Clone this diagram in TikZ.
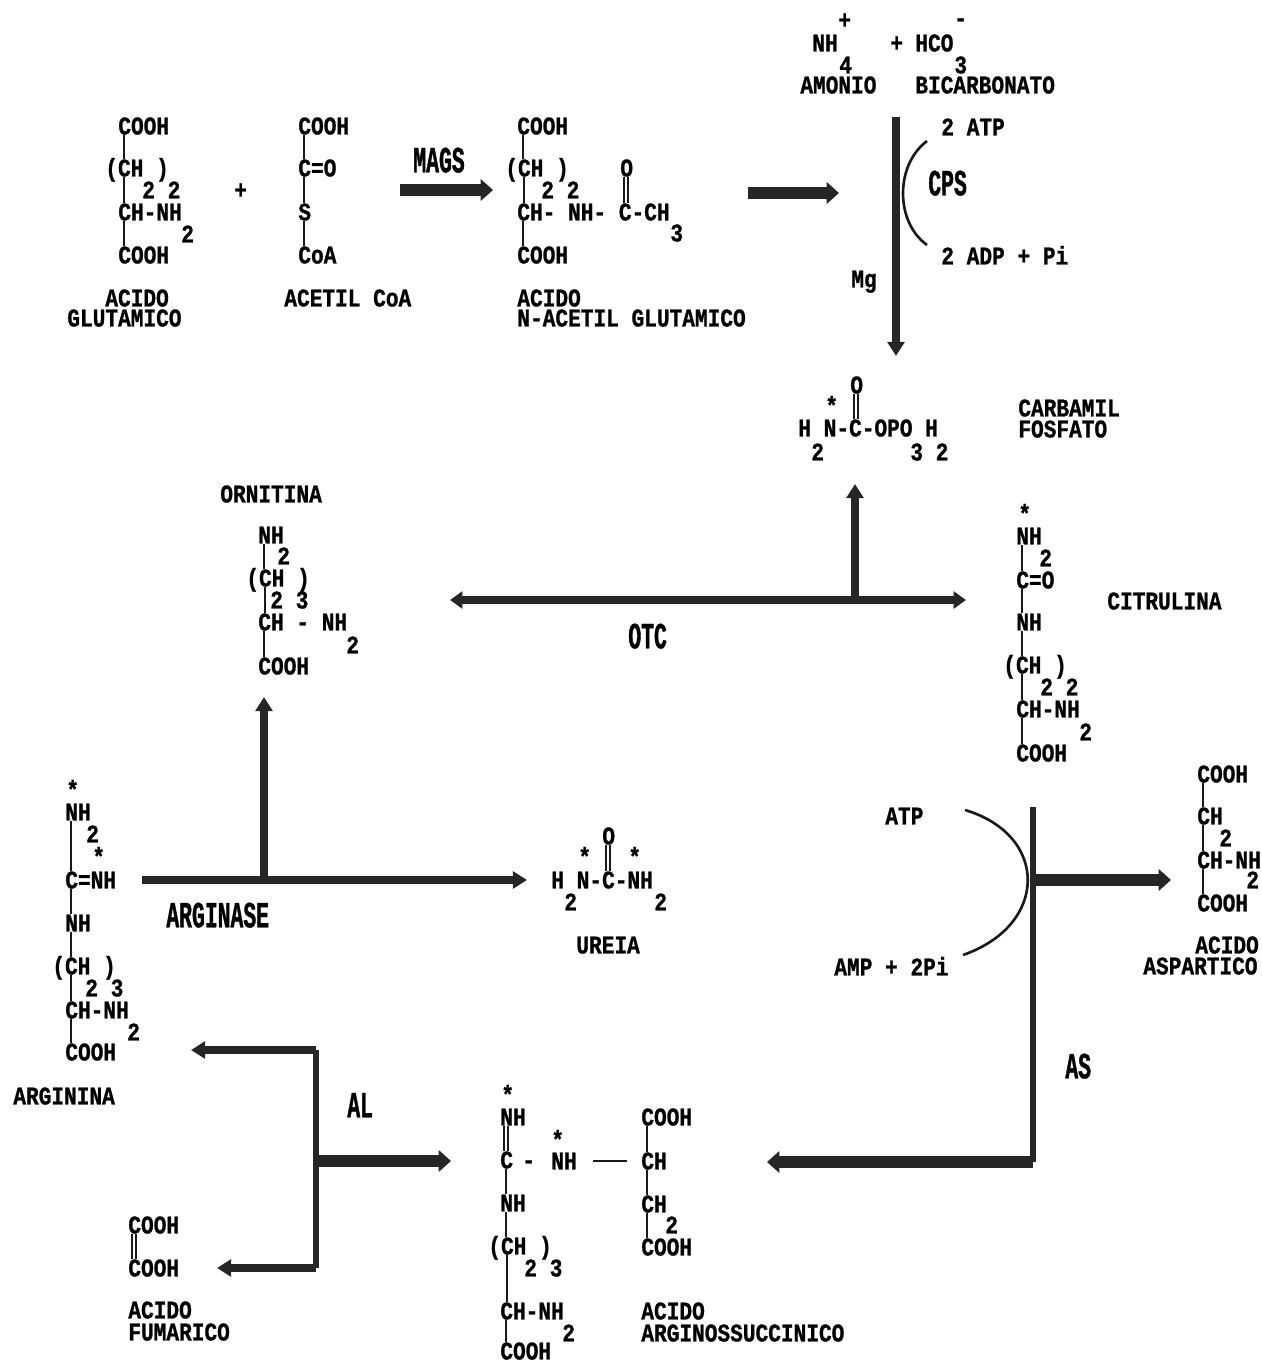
\documentclass[tikz,border=0pt]{standalone}
\usepackage{fontspec}
\usetikzlibrary{arrows.meta}
\newfontfamily\formfont[FakeStretch=0.83,BoldFeatures={FakeBold=1}]{Liberation Mono}
\newfontfamily\enzfont[FakeStretch=0.58,BoldFeatures={FakeBold=1}]{Liberation Mono}
\tikzset{
  txt/.style={anchor=west,inner sep=0pt,text height=9.6pt,text depth=0pt,
    font=\formfont\bfseries\fontsize{14.5}{14.5}\selectfont},
  enz/.style={anchor=west,inner sep=0pt,text height=14pt,text depth=0pt,
    font=\enzfont\bfseries\fontsize{21}{21}\selectfont},
  bond/.style={line width=1.1pt,black!90},
  thin arc/.style={line width=1.5pt,black!90},
  big/.style={line width=6.6pt,black!85,-{Triangle[length=7pt,width=12pt]}},
  mid/.style={line width=4.2pt,black!85,-{Triangle[length=8pt,width=9.5pt]}},
  dbl/.style={line width=4pt,black!85,{Triangle[length=7pt,width=9.5pt]}-{Triangle[length=7pt,width=9.5pt]}},
  plain bar/.style={line width=3.6pt,black!85},
}
% liaison simple sous la premiere lettre
\newcommand\bond[3][3.6pt]{\draw[bond] ([xshift=#1]#2.south west) -- ([xshift=#1]#2.south west |- #3.north);}
% liaison double
\newcommand\dbond[3][3.6pt]{\draw[bond] ([xshift=#1-1.2pt]#2.south west) -- ([xshift=#1-1.2pt]#2.south west |- #3.north);
  \draw[bond] ([xshift=#1+1.2pt]#2.south west) -- ([xshift=#1+1.2pt]#2.south west |- #3.north);}
\begin{document}
\begin{tikzpicture}[x=0.02cm,y=-0.02cm]
\useasboundingbox (0,0) rectangle (1261,1362);

% Acido glutamico
\node[txt] (glu1) at (118,126) {COOH};
\node[txt] (glu2) at (105,168) {(CH )};
\node[txt] (glu3) at (142,190) {2 2};
\node[txt] (glu4) at (118,212) {CH-NH};
\node[txt] (glu5) at (181,234) {2};
\node[txt] (glu6) at (118,255) {COOH};
\node[txt] (glu7) at (105,298) {ACIDO};
\node[txt] (glu8) at (67,318) {GLUTAMICO};
\node[txt] (plus1) at (234,190) {+};
\bond{glu1}{glu2}
\bond[10.8pt]{glu2}{glu4}
\bond{glu4}{glu6}

% Acetil CoA
\node[txt] (ace1) at (298,126) {COOH};
\node[txt] (ace2) at (298,168) {C=O};
\node[txt] (ace3) at (298,212) {S};
\node[txt] (ace4) at (298,255) {CoA};
\node[txt] (ace5) at (284,298) {ACETIL CoA};
\bond{ace1}{ace2}
\bond{ace2}{ace3}
\bond{ace3}{ace4}

% NAGS
\node[enz] (mags) at (413,160) {MAGS};
\coordinate (magsA) at (400,190);
\coordinate (magsB) at (493,190);
\draw[big] (magsA) -- (magsB);

% Acido N-acetil glutamico
\node[txt] (nag1) at (517,126) {COOH};
\node[txt] (nag2) at (505,168) {(CH )};
\node[txt] (nag3) at (541,190) {2 2};
\node[txt] (nag4) at (517,212) {CH- NH- C-CH};
\node[txt] (nag5) at (620,168) {O};
\node[txt] (nag6) at (670,233) {3};
\node[txt] (nag7) at (517,255) {COOH};
\node[txt] (nag8) at (517,298) {ACIDO};
\node[txt] (nag9) at (517,318) {N-ACETIL GLUTAMICO};
\bond{nag1}{nag2}
\bond[10.8pt]{nag2}{nag4}
\bond{nag4}{nag7}
\dbond{nag5}{nag4}
\coordinate (nagA) at (748,193);
\coordinate (nagB) at (839,193);
\draw[big] (nagA) -- (nagB);

% Amonio, bicarbonato
\node[txt] (amo1) at (838,20) {+};
\node[txt] (amo2) at (812,43) {NH};
\node[txt] (amo3) at (890,43) {+};
\node[txt] (amo4) at (839,65) {4};
\node[txt] (amo5) at (800,85) {AMONIO};
\node[txt] (bic1) at (954,18) {-};
\node[txt] (bic2) at (915,43) {HCO};
\node[txt] (bic3) at (954,65) {3};
\node[txt] (bic4) at (915,85) {BICARBONATO};

% CPS
\coordinate (cpsA) at (896,117);
\coordinate (cpsB) at (896,356);
\draw[mid] (cpsA) -- (cpsB);
\coordinate (cpsC) at (927,141);
\coordinate (cpsD) at (927,245);
\draw[thin arc] (cpsC) .. controls (895,165) and (895,222) .. (cpsD);
\node[txt] (atp1) at (941,127) {2 ATP};
\node[enz] (cps) at (928,183) {CPS};
\node[txt] (adp1) at (941,256) {2 ADP + Pi};
\node[txt] (mg) at (851,279) {Mg};

% Carbamil fosfato
\node[txt] (car1) at (850,385) {O};
\node[txt] (car2) at (825,406) {*};
\node[txt] (car3) at (798,428) {H N-C-OPO H};
\node[txt] (car4) at (811,452) {2};
\node[txt] (car5) at (910,452) {3 2};
\node[txt] (car6) at (1018,408) {CARBAMIL};
\node[txt] (car7) at (1018,429) {FOSFATO};
\dbond{car1}{car3}

% Ornitina
\node[txt] (orn1) at (220,494) {ORNITINA};
\node[txt] (orn2) at (258,535) {NH};
\node[txt] (orn3) at (277,556) {2};
\node[txt] (orn4) at (246,578) {(CH )};
\node[txt] (orn5) at (270,600) {2 3};
\node[txt] (orn6) at (258,622) {CH - NH};
\node[txt] (orn7) at (346,645) {2};
\node[txt] (orn8) at (258,666) {COOH};
\bond{orn2}{orn4}
\bond[10.8pt]{orn4}{orn6}
\bond{orn6}{orn8}

% OTC
\coordinate (otcA) at (450,600);
\coordinate (otcB) at (966,600);
\coordinate (otcC) at (855,600);
\coordinate (otcD) at (855,484);
\draw[dbl] (otcA) -- (otcB);
\draw[mid] (otcC) -- (otcD);
\node[enz] (otc) at (628,636) {OTC};

% Citrulina
\node[txt] (cit1) at (1018,514) {*};
\node[txt] (cit2) at (1016,536) {NH};
\node[txt] (cit3) at (1039,558) {2};
\node[txt] (cit4) at (1016,580) {C=O};
\node[txt] (cit5) at (1016,622) {NH};
\node[txt] (cit6) at (1003,665) {(CH )};
\node[txt] (cit7) at (1040,687) {2 2};
\node[txt] (cit8) at (1016,709) {CH-NH};
\node[txt] (cit9) at (1079,732) {2};
\node[txt] (cit10) at (1016,753) {COOH};
\node[txt] (cit11) at (1107,601) {CITRULINA};
\bond{cit2}{cit4}
\bond{cit4}{cit5}
\bond{cit5}{cit6}
\bond[10.8pt]{cit6}{cit8}
\bond{cit8}{cit10}

% Acido aspartico
\node[txt] (asp1) at (1197,774) {COOH};
\node[txt] (asp2) at (1197,816) {CH};
\node[txt] (asp3) at (1219,838) {2};
\node[txt] (asp4) at (1197,860) {CH-NH};
\node[txt] (asp5) at (1246,880) {2};
\node[txt] (asp6) at (1197,903) {COOH};
\node[txt] (asp7) at (1195,945) {ACIDO};
\node[txt] (asp8) at (1143,966) {ASPARTICO};
\bond{asp1}{asp2}
\bond{asp2}{asp4}
\bond{asp4}{asp6}

% AS
\coordinate (asA) at (1033,807);
\coordinate (asB) at (1033,1162);
\coordinate (asC) at (767,1162);
\coordinate (asD) at (1033,880);
\coordinate (asE) at (1171,880);
\coordinate (asF) at (965,810);
\coordinate (asG) at (963,955);
\draw[plain bar] (asA) -- (asB);
\draw[big] (asB) -- (asC);
\draw[big] (asD) -- (asE);
\draw[thin arc] (asF) .. controls (1049,835) and (1049,925) .. (asG);
\node[txt] (atp2) at (885,816) {ATP};
\node[txt] (amp) at (834,967) {AMP + 2Pi};
\node[enz] (as) at (1065,1066) {AS};

% Ureia
\node[txt] (ure1) at (602,836) {O};
\node[txt] (ure2) at (578,857) {*};
\node[txt] (ure3) at (628,857) {*};
\node[txt] (ure4) at (551,880) {H N-C-NH};
\node[txt] (ure5) at (564,902) {2};
\node[txt] (ure6) at (654,902) {2};
\node[txt] (ure7) at (576,945) {UREIA};
\dbond{ure1}{ure4}

% Arginase
\coordinate (argA) at (142,880);
\coordinate (argB) at (527,880);
\coordinate (argC) at (264,880);
\coordinate (argD) at (264,697);
\draw[mid] (argA) -- (argB);
\draw[mid] (argC) -- (argD);
\node[enz] (arg) at (166,915) {ARGINASE};

% Arginina
\node[txt] (agn1) at (66,790) {*};
\node[txt] (agn2) at (65,812) {NH};
\node[txt] (agn3) at (86,834) {2};
\node[txt] (agn4) at (92,857) {*};
\node[txt] (agn5) at (65,880) {C=NH};
\node[txt] (agn6) at (65,923) {NH};
\node[txt] (agn7) at (52,966) {(CH )};
\node[txt] (agn8) at (85,988) {2 3};
\node[txt] (agn9) at (65,1010) {CH-NH};
\node[txt] (agn10) at (127,1032) {2};
\node[txt] (agn11) at (65,1052) {COOH};
\node[txt] (agn12) at (13,1096) {ARGININA};
\bond{agn2}{agn5}
\bond{agn5}{agn6}
\bond{agn6}{agn7}
\bond[10.8pt]{agn7}{agn9}
\bond{agn9}{agn11}

% AL
\coordinate (alA) at (316,1050);
\coordinate (alB) at (316,1268);
\coordinate (alC) at (191,1050);
\coordinate (alD) at (217,1268);
\coordinate (alE) at (316,1161);
\coordinate (alF) at (451,1161);
\draw[plain bar] (alA) -- (alB);
\draw[mid] (alA) -- (alC);
\draw[mid] (alB) -- (alD);
\draw[big] (alE) -- (alF);
\node[enz] (al) at (347,1105) {AL};

% Acido fumarico
\node[txt] (fum1) at (128,1225) {COOH};
\node[txt] (fum2) at (128,1268) {COOH};
\node[txt] (fum3) at (128,1310) {ACIDO};
\node[txt] (fum4) at (128,1332) {FUMARICO};
\dbond{fum1}{fum2}

% Acido arginossuccinico
\node[txt] (ars1) at (501,1095) {*};
\node[txt] (ars2) at (500,1117) {NH};
\node[txt] (ars3) at (500,1160) {C};
\node[txt] (ars4) at (522,1160) {-};
\node[txt] (ars5) at (551,1140) {*};
\node[txt] (ars6) at (551,1161) {NH};
\node[txt] (ars7) at (641,1117) {COOH};
\node[txt] (ars8) at (641,1161) {CH};
\node[txt] (ars9) at (641,1204) {CH};
\node[txt] (ars10) at (665,1225) {2};
\node[txt] (ars11) at (641,1247) {COOH};
\node[txt] (ars12) at (500,1203) {NH};
\node[txt] (ars13) at (488,1246) {(CH )};
\node[txt] (ars14) at (524,1268) {2 3};
\node[txt] (ars15) at (500,1311) {CH-NH};
\node[txt] (ars16) at (562,1333) {2};
\node[txt] (ars17) at (500,1351) {COOH};
\node[txt] (ars18) at (641,1311) {ACIDO};
\node[txt] (ars19) at (641,1333) {ARGINOSSUCCINICO};
\dbond{ars2}{ars3}
\bond{ars3}{ars12}
\bond{ars12}{ars13}
\bond[10.8pt]{ars13}{ars15}
\bond{ars15}{ars17}
\bond{ars7}{ars8}
\bond{ars8}{ars9}
\bond{ars9}{ars11}
\draw[bond] ([xshift=9pt]ars6.east) -- ([xshift=-8pt]ars8.west);

\end{tikzpicture}
\end{document}
